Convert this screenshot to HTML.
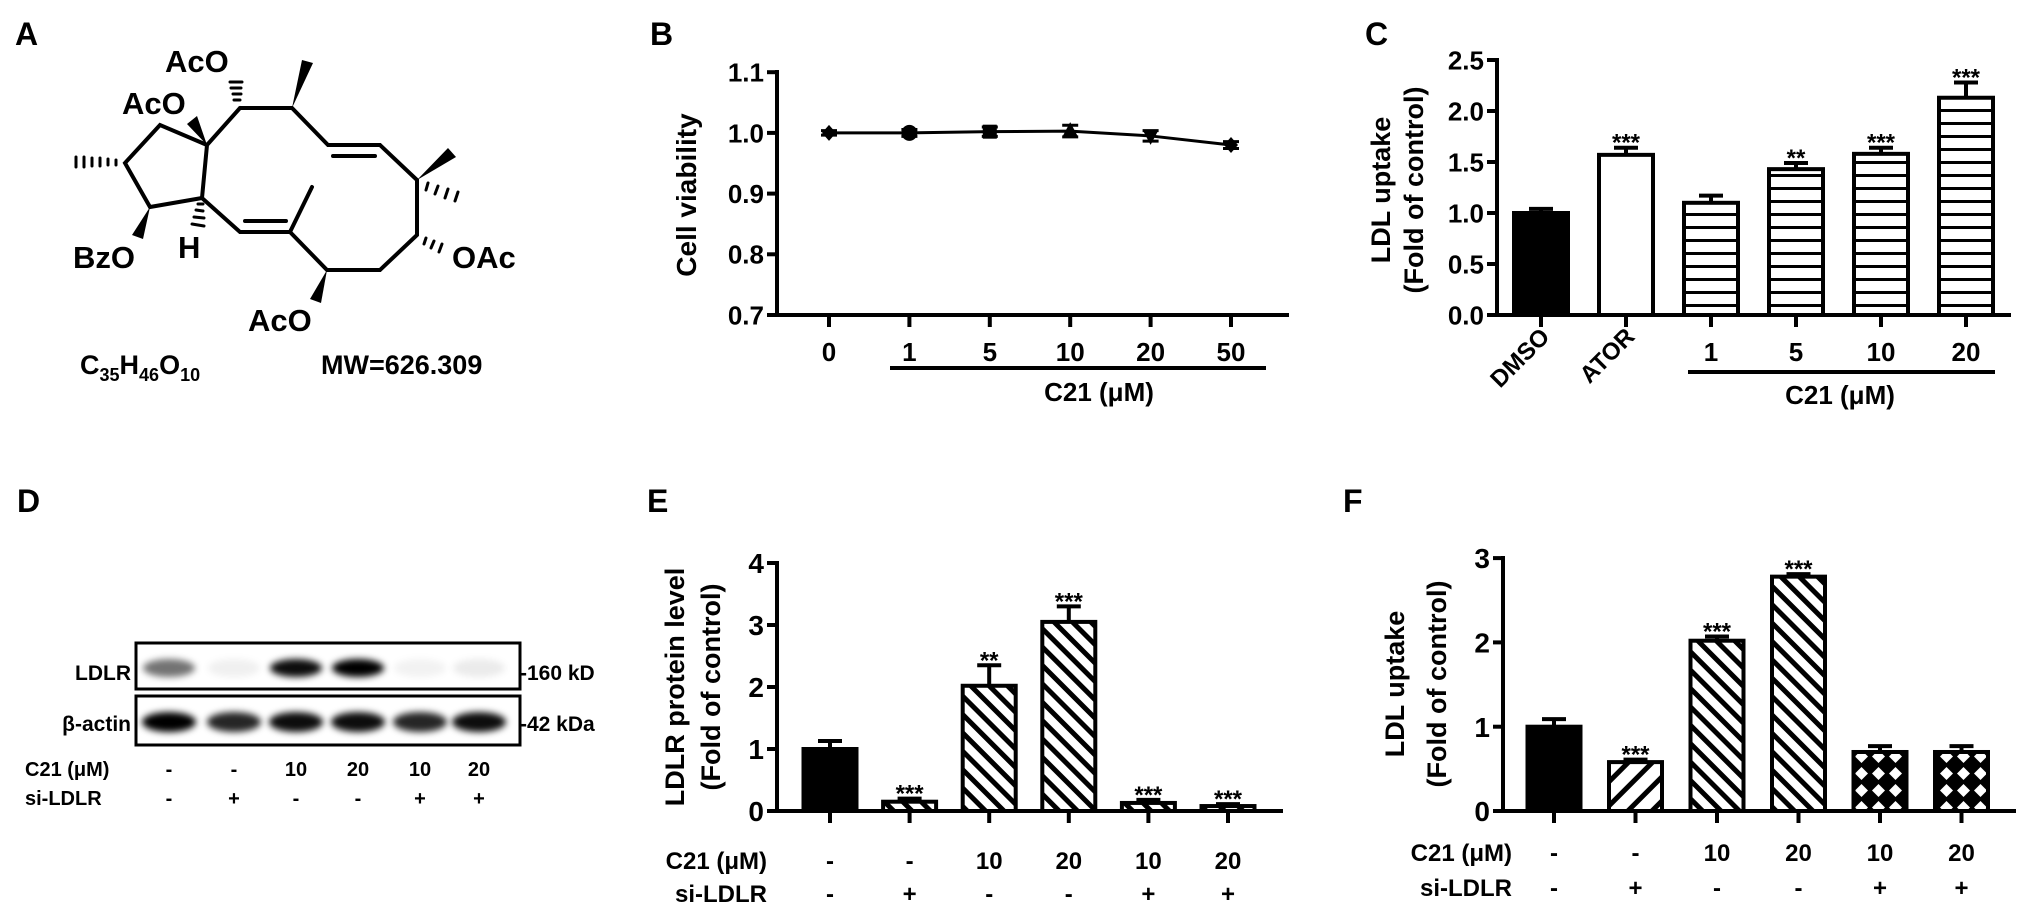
<!DOCTYPE html>
<html><head><meta charset="utf-8"><style>
html,body{margin:0;padding:0;background:#fff;}
svg{display:block;font-family:"Liberation Sans",Arial,sans-serif;font-weight:bold;}
</style></head><body>
<svg id="fig" width="2031" height="921" viewBox="0 0 2031 921" xmlns="http://www.w3.org/2000/svg">
<defs>
<pattern id="hatchH" patternUnits="userSpaceOnUse" width="10" height="13"><rect width="10" height="13" fill="#fff"/><rect y="5" width="10" height="3" fill="#000"/></pattern>
<pattern id="hatchBack" patternUnits="userSpaceOnUse" width="13" height="13" patternTransform="rotate(-45)"><rect width="13" height="13" fill="#fff"/><rect x="4" width="5" height="13" fill="#000"/></pattern>
<pattern id="hatchFwd" patternUnits="userSpaceOnUse" width="17" height="17" patternTransform="rotate(45)"><rect width="17" height="17" fill="#fff"/><rect x="5" width="5" height="17" fill="#000"/></pattern>
<pattern id="cross" patternUnits="userSpaceOnUse" width="17" height="17"><rect width="17" height="17" fill="#000"/><polygon points="8.5,2 15,8.5 8.5,15 2,8.5" fill="#fff"/></pattern>
<filter id="blur" x="-30%" y="-80%" width="160%" height="260%"><feGaussianBlur stdDeviation="3.5"/></filter>
</defs>

<text x="15" y="45" font-size="32">A</text>
<text x="650" y="45" font-size="32">B</text>
<text x="1365" y="45" font-size="32">C</text>
<text x="17" y="512" font-size="32">D</text>
<text x="647" y="512" font-size="32">E</text>
<text x="1343" y="512" font-size="32">F</text>

<g stroke="#000" stroke-width="4" stroke-linecap="round" fill="none">
<path d="M240,108 L292,108 L328,145 L380,145 L417,180 L417,235 L380,270 L327,270 L290,232 L240,232 L202,198 L207,145 L240,108"/>
<path d="M333,156 L375,156 M245,221 L286,221 M290,232 L312,187"/>
<path d="M207,145 L160,125 L125,163 L150,207 L202,198"/>
<path stroke-width="3" d="M230,82 L242,82 M231,88 L241,88 M233,94 L241,94 M234,100 L240,100"/>
<path stroke-width="3" d="M76,157 L76,167 M84,157 L84,167 M92,158 L92,166 M100,158 L100,166 M108,159 L108,165 M116,160 L116,165"/>
<path stroke-width="3" d="M192,224 L204,226 M194,217 L204,218 M196,210 L203,211 M198,204 L203,204"/>
<path stroke-width="3" d="M428,183 L426,190 M438,186 L435,194 M448,189 L445,198 M458,192 L455,201"/>
<path stroke-width="3" d="M426,238 L424,244 M434,241 L431,248 M442,244 L439,252"/>
</g>
<g fill="#000">
<polygon points="292,108 302,60 313,63"/>
<polygon points="207,145 187,124 197,116"/>
<polygon points="150,207 132,235 143,239"/>
<polygon points="327,270 310,299 321,303"/>
<polygon points="417,180 448,148 456,157"/>
</g>
<g font-size="31">
<text x="165" y="72">AcO</text>
<text x="122" y="114">AcO</text>
<text x="73" y="268">BzO</text>
<text x="178" y="258">H</text>
<text x="248" y="331">AcO</text>
<text x="452" y="268">OAc</text>
</g>
<text x="80" y="374" font-size="27">C<tspan font-size="18" dy="7">35</tspan><tspan dy="-7">H</tspan><tspan font-size="18" dy="7">46</tspan><tspan dy="-7">O</tspan><tspan font-size="18" dy="7">10</tspan></text>
<text x="321" y="374" font-size="27">MW=626.309</text>

<g id="blot">
<rect x="136" y="643" width="384" height="46" fill="#fff" stroke="#000" stroke-width="3"/>
<rect x="136" y="696" width="384" height="49" fill="#fff" stroke="#000" stroke-width="3"/>
<text x="131" y="680" font-size="21" text-anchor="end">LDLR</text>
<text x="131" y="731" font-size="21" text-anchor="end">β-actin</text>
<text x="520" y="680" font-size="21">-160 kD</text>
<text x="520" y="731" font-size="21">-42 kDa</text>
<text x="25" y="776" font-size="20">C21 (μM)</text>
<text x="25" y="805" font-size="20">si-LDLR</text>
</g>

<text transform="translate(696,195) rotate(-90)" font-size="28" text-anchor="middle">Cell viability</text>
<line x1="890" y1="368" x2="1266" y2="368" stroke="#000" stroke-width="4"/>
<text x="1099" y="401" font-size="26" text-anchor="middle">C21 (μM)</text>

<text transform="translate(1390,190) rotate(-90)" font-size="27" text-anchor="middle">LDL uptake</text>
<text transform="translate(1423,190) rotate(-90)" font-size="27" text-anchor="middle">(Fold of control)</text>
<line x1="1688" y1="372" x2="1995" y2="372" stroke="#000" stroke-width="4"/>
<text x="1840" y="404" font-size="26" text-anchor="middle">C21 (μM)</text>

<text transform="translate(684,687) rotate(-90)" font-size="27" text-anchor="middle">LDLR protein level</text>
<text transform="translate(720,687) rotate(-90)" font-size="27" text-anchor="middle">(Fold of control)</text>
<text x="767" y="869" font-size="24" text-anchor="end">C21 (μM)</text>
<text x="767" y="902" font-size="24" text-anchor="end">si-LDLR</text>

<text transform="translate(1404,684) rotate(-90)" font-size="27" text-anchor="middle">LDL uptake</text>
<text transform="translate(1446,684) rotate(-90)" font-size="27" text-anchor="middle">(Fold of control)</text>
<text x="1512" y="861" font-size="24" text-anchor="end">C21 (μM)</text>
<text x="1512" y="896" font-size="24" text-anchor="end">si-LDLR</text>
</svg>

<script>
const bCategories = ["0","1","5","10","20","50"];
const bValues = [1.0, 1.0, 1.002, 1.003, 0.995, 0.98];
const bErrors = [0.002, 0.004, 0.006, 0.008, 0.007, 0.004];
const bTicks = [0.7, 0.8, 0.9, 1.0, 1.1];
const bTickLabels = ["0.7","0.8","0.9","1.0","1.1"];

const cCategories = ["DMSO","ATOR","1","5","10","20"];
const cValues = [1.0, 1.57, 1.1, 1.43, 1.58, 2.13];
const cErrors = [0.04, 0.07, 0.07, 0.06, 0.06, 0.15];
const cStars = ["", "***", "", "**", "***", "***"];
const cTicks = [0, 0.5, 1.0, 1.5, 2.0, 2.5];
const cTickLabels = ["0.0","0.5","1.0","1.5","2.0","2.5"];

const dC21 = ["-","-","10","20","10","20"];
const dSi = ["-","+","-","-","+","+"];
const dLdlrIntensity = [0.55, 0.06, 0.95, 1.0, 0.05, 0.08];
const dActinIntensity = [1.0, 0.85, 0.95, 0.95, 0.85, 0.95];

const eC21 = ["-","-","10","20","10","20"];
const eSi = ["-","+","-","-","+","+"];
const eValues = [1.0, 0.15, 2.02, 3.05, 0.13, 0.08];
const eErrors = [0.13, 0.05, 0.33, 0.25, 0.05, 0.03];
const eStars = ["", "***", "**", "***", "***", "***"];
const eTicks = [0,1,2,3,4];
const eTickLabels = ["0","1","2","3","4"];

const fC21 = ["-","-","10","20","10","20"];
const fSi = ["-","+","-","-","+","+"];
const fValues = [1.0, 0.58, 2.02, 2.78, 0.7, 0.7];
const fErrors = [0.09, 0.03, 0.05, 0.03, 0.07, 0.07];
const fStars = ["", "***", "***", "***", "", ""];
const fTicks = [0,1,2,3];
const fTickLabels = ["0","1","2","3"];

const NS = "http://www.w3.org/2000/svg";
const svg = document.getElementById("fig");
function mk(tag, attrs, parent) {
  const el = document.createElementNS(NS, tag);
  for (const k in attrs) el.setAttribute(k, attrs[k]);
  (parent || svg).appendChild(el);
  return el;
}

function yAxis(prefix, x, yScale, ticks, labels, yTop, yBot, fontSize) {
  const ax = mk("line", {x1:x, y1:yTop-2, x2:x, y2:yBot, stroke:"#000", "stroke-width":4});
  
  
  ticks.forEach((t, i) => {
    const y = yScale(t);
    const tk = mk("line", {x1:x-10, y1:y, x2:x, y2:y, stroke:"#000", "stroke-width":4});
    
    
    const tl = mk("text", {x:x-13, y:y+fontSize*0.36, "font-size":fontSize, "text-anchor":"end"});
    tl.textContent = labels[i];
    
    
  });
}
function xAxis(prefix, x0, x1, y, centers) {
  const ax = mk("line", {x1:x0, y1:y, x2:x1, y2:y, stroke:"#000", "stroke-width":4});
  
  
  centers.forEach(cx => {
    const tk = mk("line", {x1:cx, y1:y, x2:cx, y2:y+12, stroke:"#000", "stroke-width":4});
    
    
  });
}
function bars(prefix, centers, values, errors, stars, fills, width, yScale) {
  values.forEach((v, i) => {
    const cx = centers[i];
    const top = yScale(v), base = yScale(0);
    const etop = yScale(v + errors[i]);
    const eb = mk("line", {x1:cx, y1:top, x2:cx, y2:etop, stroke:"#000", "stroke-width":4});
    
    
    const cap = mk("line", {x1:cx-12, y1:etop, x2:cx+12, y2:etop, stroke:"#000", "stroke-width":4});
    
    
    const r = mk("rect", {x:cx-width/2, y:top, width:width, height:Math.max(base-top,0.5), fill:fills[i], stroke:"#000", "stroke-width":4});
    
    
    if (stars[i]) {
      const s = mk("text", {x:cx, y:etop+3, "font-size":24, "text-anchor":"middle"});
      s.textContent = stars[i];
      
      
    }
  });
}
function rowLabels(prefix, centers, arr, y, name) {
  arr.forEach((t, i) => {
    const el = mk("text", {x:centers[i], y:y, "font-size":24, "text-anchor":"middle"});
    el.textContent = t;
    
    
  });
}

(function(){
  const yS = v => 315 - (v - 0.7) * 607;
  const xC = i => 829 + i * 80.4;
  const centers = bCategories.map((c, i) => xC(i));
  yAxis("b", 777, yS, bTicks, bTickLabels, 72, 315, 26);
  xAxis("b", 767, 1289, 315, centers);
  bCategories.forEach((c, i) => {
    const t = mk("text", {x:centers[i], y:361, "font-size":26, "text-anchor":"middle"});
    t.textContent = c;
    
    
  });
  let d = "";
  bValues.forEach((v, i) => { d += (i ? "L" : "M") + centers[i] + "," + yS(v); });
  const ln = mk("path", {d:d, fill:"none", stroke:"#000", "stroke-width":3});
  
  
  const shapes = ["diamond","circle","square","triUp","triDown","diamond"];
  bValues.forEach((v, i) => {
    const cx = centers[i], cy = yS(v), e = bErrors[i] * 607;
    const eb = mk("path", {d:`M${cx},${cy-e-1}L${cx},${cy+e+1}M${cx-8},${cy-e-1}L${cx+8},${cy-e-1}M${cx-8},${cy+e+1}L${cx+8},${cy+e+1}`, stroke:"#000", "stroke-width":3, fill:"none"});
    
    
    let m;
    const s = shapes[i];
    if (s === "circle") m = mk("circle", {cx:cx, cy:cy, r:8, fill:"#000"});
    else if (s === "square") m = mk("rect", {x:cx-7, y:cy-7, width:14, height:14, fill:"#000"});
    else if (s === "triUp") m = mk("polygon", {points:`${cx},${cy-9} ${cx+8},${cy+6} ${cx-8},${cy+6}`, fill:"#000"});
    else if (s === "triDown") m = mk("polygon", {points:`${cx},${cy+9} ${cx+8},${cy-6} ${cx-8},${cy-6}`, fill:"#000"});
    else m = mk("polygon", {points:`${cx},${cy-8} ${cx+7},${cy} ${cx},${cy+8} ${cx-7},${cy}`, fill:"#000"});
    
    
  });
})();

(function(){
  const yS = v => 315 - v * 102;
  const centers = cCategories.map((c, i) => 1541 + i * 85);
  yAxis("c", 1497, yS, cTicks, cTickLabels, 60, 315, 26);
  xAxis("c", 1493, 2011, 315, centers);
  bars("c", centers, cValues, cErrors, cStars, ["#000","#fff","url(#hatchH)","url(#hatchH)","url(#hatchH)","url(#hatchH)"], 54, yS);
  cCategories.forEach((c, i) => {
    let t;
    if (i < 2) {
      t = mk("text", {transform:`translate(${centers[i]+10},338) rotate(-45)`, "font-size":24, "text-anchor":"end"});
    } else {
      t = mk("text", {x:centers[i], y:361, "font-size":26, "text-anchor":"middle"});
    }
    t.textContent = c;
    
    
  });
})();

(function(){
  const lanes = dLdlrIntensity.map((v, i) => [169,234,296,358,420,479][i]);
  const g = document.getElementById("blot");
  dLdlrIntensity.forEach((v, i) => {
    const b = mk("ellipse", {cx:lanes[i], cy:668, rx:26, ry:9, fill:"#000", "fill-opacity":v, filter:"url(#blur)"}, g);
    
    
  });
  dActinIntensity.forEach((v, i) => {
    const b = mk("ellipse", {cx:lanes[i], cy:722, rx:27, ry:10, fill:"#000", "fill-opacity":v, filter:"url(#blur)"}, g);
    
    
  });
  dC21.forEach((t, i) => {
    const el = mk("text", {x:lanes[i], y:776, "font-size":20, "text-anchor":"middle"}, g);
    el.textContent = t;
    
    
  });
  dSi.forEach((t, i) => {
    const el = mk("text", {x:lanes[i], y:805, "font-size":20, "text-anchor":"middle"}, g);
    el.textContent = t;
    
    
  });
})();

(function(){
  const yS = v => 811 - v * 62;
  const centers = eValues.map((v, i) => 830 + i * 79.6);
  yAxis("e", 777, yS, eTicks, eTickLabels, 563, 811, 28);
  xAxis("e", 773, 1283, 811, centers);
  bars("e", centers, eValues, eErrors, eStars, ["#000","url(#hatchBack)","url(#hatchBack)","url(#hatchBack)","url(#hatchBack)","url(#hatchBack)"], 53, yS);
  rowLabels("e", centers, eC21, 869, "c21-value");
  rowLabels("e", centers, eSi, 902, "si-ldlr-value");
})();

(function(){
  const yS = v => 811 - v * 84.3;
  const centers = fValues.map((v, i) => 1554 + i * 81.5);
  yAxis("f", 1503, yS, fTicks, fTickLabels, 558, 811, 28);
  xAxis("f", 1499, 2016, 811, centers);
  bars("f", centers, fValues, fErrors, fStars, ["#000","url(#hatchFwd)","url(#hatchBack)","url(#hatchBack)","url(#cross)","url(#cross)"], 53, yS);
  rowLabels("f", centers, fC21, 861, "c21-value");
  rowLabels("f", centers, fSi, 896, "si-ldlr-value");
})();
</script>
</body></html>
